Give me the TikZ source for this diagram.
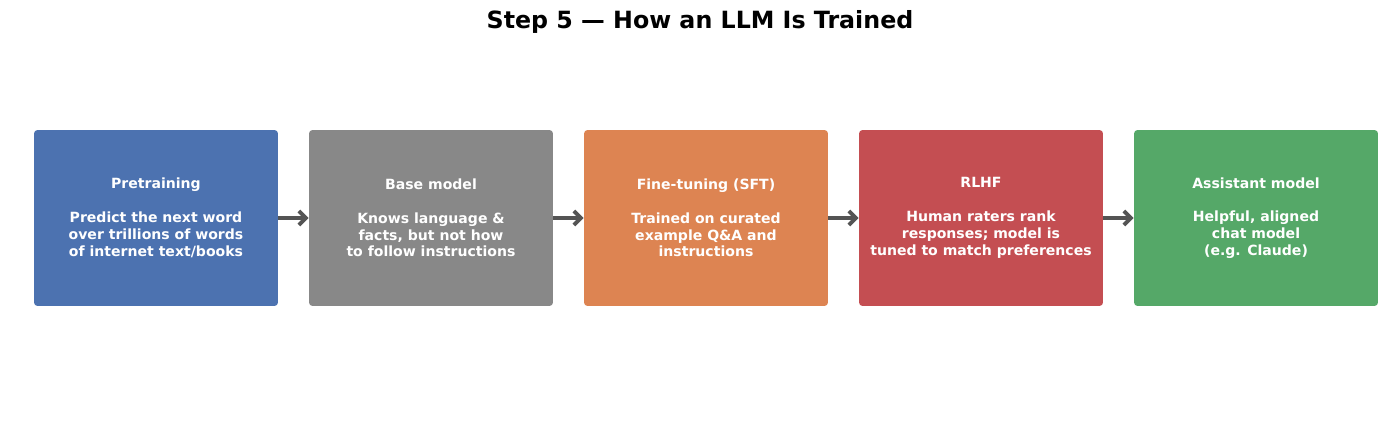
\documentclass[tikz,border=0pt]{standalone}
\usepackage{fontspec}
\setmainfont{DejaVu Sans}
\begin{document}
\begin{tikzpicture}[x=0.02cm,y=-0.02cm,
  box/.style={draw=none,rounded corners=2pt,minimum width=4.88cm,minimum height=3.52cm,
    text=white,align=center,font=\fontsize{8}{9.6}\selectfont\bfseries,inner sep=0pt},
  arr/.style={draw=black!67,line width=2.2pt,-{Straight Barb[length=4pt,width=8pt]}}]
\usetikzlibrary{arrows.meta}
\useasboundingbox (0,0) rectangle (1400,429);
\node[font=\fontsize{13.5}{16}\selectfont\bfseries] (title) at (700,22) {Step 5 — How an LLM Is Trained};
\node[box,fill={rgb,255:red,76;green,114;blue,176}] (a) at (156,218) {Pretraining\\[9.6pt]Predict the next word\\over trillions of words\\of internet text/books};
\node[box,fill={rgb,255:red,136;green,136;blue,136}] (b) at (431,218) {Base model\\[9.6pt]Knows language \&\\facts, but not how\\to follow instructions};
\node[box,fill={rgb,255:red,221;green,132;blue,82}] (c) at (706,218) {Fine-tuning (SFT)\\[9.6pt]Trained on curated\\example Q\&A and\\instructions};
\node[box,fill={rgb,255:red,196;green,78;blue,82}] (d) at (981,218) {RLHF\\[9.6pt]Human raters rank\\responses; model is\\tuned to match preferences};
\node[box,fill={rgb,255:red,85;green,168;blue,104}] (e) at (1256,218) {Assistant model\\[9.6pt]Helpful, aligned\\chat model\\(e.g. Claude)};
\draw[arr] (a) -- (b);
\draw[arr] (b) -- (c);
\draw[arr] (c) -- (d);
\draw[arr] (d) -- (e);
\end{tikzpicture}
\end{document}
